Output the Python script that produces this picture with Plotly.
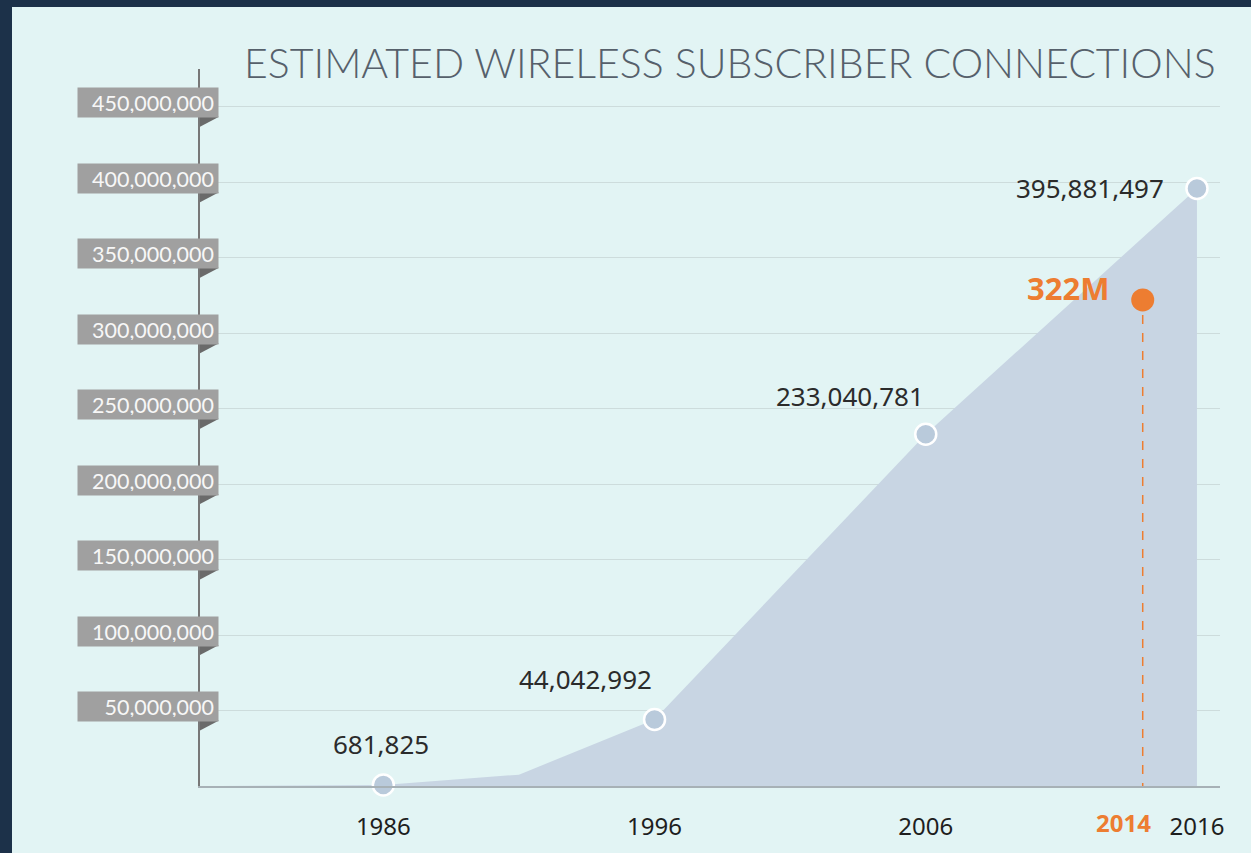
import plotly.graph_objects as go

# ---- data ----
area_years = [1980, 1986, 1991, 1996, 2006, 2016]
area_values = [0, 681825, 7500000, 44042992, 233040781, 395881497]

point_years = [1986, 1996, 2006, 2016]
point_values = [681825, 44042992, 233040781, 395881497]

highlight_year = 2014
highlight_value = 322000000
highlight_label = "322M"

y_ticks = [50000000, 100000000, 150000000, 200000000, 250000000,
           300000000, 350000000, 400000000, 450000000]
x_ticks = [1986, 1996, 2006, 2016]

title_text = "ESTIMATED WIRELESS SUBSCRIBER CONNECTIONS"

# ---- style ----
W, H = 1251, 853
ML, MR, MT, MB = 200, 31, 69, 67
PW, PH = W - ML - MR, H - MT - MB
BG = "#e2f4f4"
NAVY = "#1c3149"
AREA = "#c8d5e3"
DOT = "#b9cadb"
ORANGE = "#ed7d31"

def px_to_paper_x(px):
    return (px - ML) / PW

def px_to_paper_y(py):
    return 1 - (py - MT) / PH

fig = go.Figure()

fig.add_trace(go.Scatter(
    x=area_years, y=area_values, mode="lines", fill="tozeroy",
    fillcolor=AREA, line=dict(width=0, color=AREA), hoverinfo="skip",
    showlegend=False))

fig.add_trace(go.Scatter(
    x=point_years, y=point_values, mode="markers",
    marker=dict(size=21, color=DOT, line=dict(color="white", width=2.5)),
    cliponaxis=False, showlegend=False))

shapes = []
# navy border strips
shapes.append(dict(type="rect", xref="paper", yref="paper",
                   x0=px_to_paper_x(-5), x1=px_to_paper_x(12),
                   y0=px_to_paper_y(H + 5), y1=px_to_paper_y(-5),
                   fillcolor=NAVY, line=dict(width=0), layer="below"))
shapes.append(dict(type="rect", xref="paper", yref="paper",
                   x0=px_to_paper_x(-5), x1=px_to_paper_x(W + 5),
                   y0=px_to_paper_y(7), y1=px_to_paper_y(-5),
                   fillcolor=NAVY, line=dict(width=0), layer="below"))
# dashed highlight line
shapes.append(dict(type="line", xref="x", yref="y",
                   x0=highlight_year, x1=highlight_year,
                   y0=-4000000, y1=highlight_value,
                   line=dict(color=ORANGE, width=1.5, dash="dash")))

fig.add_trace(go.Scatter(
    x=[highlight_year], y=[highlight_value], mode="markers",
    marker=dict(size=23, color=ORANGE), cliponaxis=False, showlegend=False))

annotations = []
# y tick ribbons
for v in y_ticks:
    annotations.append(dict(
        xref="paper", yref="y", x=0, y=v, xanchor="right", yanchor="middle",
        xshift=19, yshift=4, text=f"{v:,}", showarrow=False,
        width=132, height=21, align="right", valign="middle",
        bgcolor="#a0a0a0", borderpad=4,
        font=dict(family="Lato, Noto Sans, sans-serif", size=21.5, color="#f7f7f7")))
    shapes.append(dict(
        type="path", xref="paper", yref="y", xsizemode="pixel", ysizemode="pixel",
        xanchor=0, yanchor=v, path="M 0,-10 L 19,-10 L 0,-20 Z",
        fillcolor="#6a6a6a", line=dict(width=0)))

# data labels
label_font = dict(family="Noto Sans, Open Sans, sans-serif", size=26, color="#2b2b2b")
offsets = [(-2, 41), (-69, 41), (-76, 38), (-31, 0)]
for (x, v), (dx, dy) in zip(zip(point_years, point_values), offsets):
    if dy == 0:
        annotations.append(dict(xref="x", yref="y", x=x, y=v, text=f"{v:,}",
                                showarrow=False, xanchor="right", yanchor="middle",
                                xshift=dx, yshift=0, font=label_font))
    else:
        annotations.append(dict(xref="x", yref="y", x=x, y=v, text=f"{v:,}",
                                showarrow=False, xanchor="center", yanchor="middle",
                                xshift=dx, yshift=dy, font=label_font))

annotations.append(dict(xref="x", yref="y", x=highlight_year, y=highlight_value,
                        text=f"<b>{highlight_label}</b>", showarrow=False,
                        xanchor="right", yanchor="middle", xshift=-32, yshift=12,
                        font=dict(family="Open Sans, Noto Sans, sans-serif", size=31,
                                  color=ORANGE)))

# highlighted year label under the axis
annotations.append(dict(xref="x", yref="paper", x=highlight_year, y=0,
                        text=f"<b>{highlight_year}</b>", showarrow=False,
                        xanchor="right", yanchor="top", xshift=10, yshift=-18,
                        font=dict(family="Open Sans, Noto Sans, sans-serif", size=24,
                                  color=ORANGE)))

annotations.append(dict(xref="paper", yref="paper", x=px_to_paper_x(1218),
                        y=px_to_paper_y(62), xanchor="right", yanchor="middle",
                        text=title_text, showarrow=False,
                        font=dict(family="Lato, sans-serif", size=41, color="#56606b",
                                  weight=300)))

fig.update_layout(
    width=W, height=H,
    margin=dict(l=ML, r=MR, t=MT, b=MB, pad=0, autoexpand=False),
    paper_bgcolor=BG, plot_bgcolor=BG,
    shapes=shapes, annotations=annotations, showlegend=False,
    xaxis=dict(range=[1986 - 183 / 27.07, 2016 + 23 / 27.07],
               tickvals=x_ticks, ticktext=[str(t) for t in x_ticks], ticks="",
               tickangle=0, automargin=False,
               showgrid=False, zeroline=False, showline=True,
               linecolor="#a7b1b6", linewidth=2, ticklabelstandoff=18,
               tickfont=dict(family="Noto Sans, Open Sans, sans-serif", size=24,
                             color="#1e1e1e")),
    yaxis=dict(range=[0, 475000000], tickvals=y_ticks, showticklabels=False,
               ticks="", showgrid=True, gridcolor="#cddcdc", gridwidth=1.2,
               automargin=False,
               zeroline=False, showline=True, linecolor="#777777", linewidth=1.5),
)

fig.write_html("out.html", config={"displayModeBar": False},
               post_script="document.body.style.margin='0';document.body.style.overflow='hidden';")
